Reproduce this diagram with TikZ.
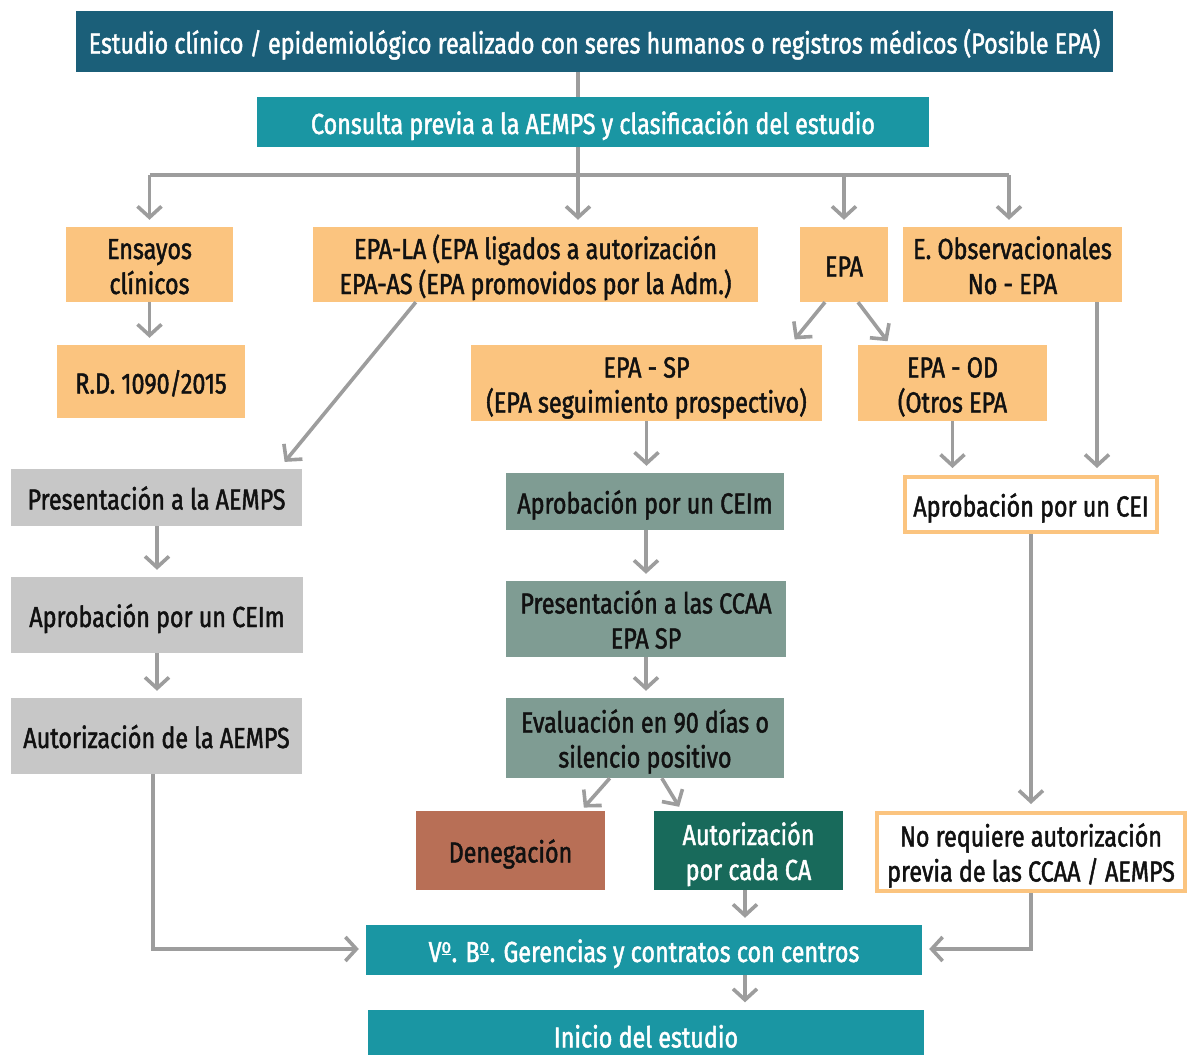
\documentclass[tikz,border=0pt]{standalone}
\usepackage{fontspec}
\setmainfont{Fira Sans}[FakeStretch=0.805, FakeBold=1.6]
\usetikzlibrary{arrows.meta,calc}
\definecolor{cdark}{HTML}{1B5F79}
\definecolor{cteal}{HTML}{1A96A3}
\definecolor{corange}{HTML}{FBC47F}
\definecolor{cgrey}{HTML}{C7C7C7}
\definecolor{csage}{HTML}{7F9C93}
\definecolor{cbrick}{HTML}{B86F56}
\definecolor{cgreen}{HTML}{186A5B}
\definecolor{cline}{HTML}{9D9D9D}
\definecolor{ctext}{HTML}{111111}
\tikzset{
  box/.style={rectangle, inner sep=0pt, align=center, text=ctext,
    font=\fontsize{29}{35}\selectfont,
    execute at begin node={\rule{0pt}{32pt}},
    execute at end node={\rule[-8pt]{0pt}{8pt}}},
  twoline/.style={execute at begin node={\rule{0pt}{67pt}}},
  lowtext/.style={execute at begin node={\rule{0pt}{38pt}},
    execute at end node={\rule[-4pt]{0pt}{4pt}}},
  darkbox/.style={box, fill=cdark, text=white},
  tealbox/.style={box, fill=cteal, text=white},
  orangebox/.style={box, fill=corange},
  greybox/.style={box, fill=cgrey},
  sagebox/.style={box, fill=csage},
  brickbox/.style={box, fill=cbrick},
  greenbox/.style={box, fill=cgreen, text=white},
  framebox/.style={box, fill=white, draw=corange, line width=4pt},
  conn/.style={draw=cline, line width=3.6pt},
  arr/.style={conn, -{Straight Barb[length=11pt,width=24pt,line width=3.6pt]}, shorten >=7pt},
}
\begin{document}
\begin{tikzpicture}[x=1pt,y=-1pt]
\useasboundingbox (0,0) rectangle (1187,1055);
% nodes
\node[darkbox, minimum width=1037, minimum height=61] (top) at (594.5,41.5) {Estudio clínico / epidemiológico realizado con seres humanos o registros médicos (Posible EPA)};
\node[tealbox, minimum width=672, minimum height=50] (consulta) at (593,122) {Consulta previa a la AEMPS y clasificación del estudio};
\node[orangebox, twoline, minimum width=167, minimum height=75] (ensayos) at (149.5,264.5) {Ensayos\\clínicos};
\node[orangebox, twoline, minimum width=445, minimum height=75] (epala) at (535.5,264.5) {EPA-LA (EPA ligados a autorización\\EPA-AS (EPA promovidos por la Adm.)};
\node[orangebox, minimum width=88, minimum height=75] (epa) at (844,264.5) {EPA};
\node[orangebox, twoline, minimum width=219, minimum height=75] (obs) at (1012.5,264.5) {E. Observacionales\\No - EPA};
\node[orangebox, minimum width=188, minimum height=73] (rd) at (151,381.5) {R.D. 1090/2015};
\node[orangebox, twoline, minimum width=351, minimum height=76] (epasp) at (646.5,383) {EPA - SP\\(EPA seguimiento prospectivo)};
\node[orangebox, twoline, minimum width=189, minimum height=76] (epaod) at (952.5,383) {EPA - OD\\(Otros EPA};
\node[greybox, minimum width=291, minimum height=57] (presA) at (156.5,497.5) {Presentación a la AEMPS};
\node[sagebox, minimum width=278, minimum height=57] (ceimB) at (645,501.5) {Aprobación por un CEIm};
\node[framebox, minimum width=252, minimum height=55] (cei) at (1031,504.5) {Aprobación por un CEI};
\node[greybox, minimum width=292, minimum height=76] (ceimA) at (157,615) {Aprobación por un CEIm};
\node[sagebox, twoline, minimum width=280, minimum height=76] (presC) at (646,619) {Presentación a las CCAA\\EPA SP};
\node[greybox, minimum width=291, minimum height=76] (autA) at (156.5,736) {Autorización de la AEMPS};
\node[sagebox, twoline, minimum width=278, minimum height=80] (eval) at (645,738) {Evaluación en 90 días o\\silencio positivo};
\node[brickbox, minimum width=189, minimum height=79] (deneg) at (510.5,850.5) {Denegación};
\node[greenbox, twoline, minimum width=189, minimum height=79] (autCA) at (748.5,850.5) {Autorización\\por cada CA};
\node[framebox, twoline, minimum width=308, minimum height=78] (noreq) at (1031,852) {No requiere autorización\\previa de las CCAA / AEMPS};
\node[tealbox, minimum width=556, minimum height=50] (vobo) at (644,950) {V\textsuperscript{\underline{o}}. B\textsuperscript{\underline{o}}. Gerencias y contratos con centros};
\node[tealbox, lowtext, minimum width=556, minimum height=45] (inicio) at (646,1032.5) {Inicio del estudio};
% coordinates
\coordinate (trunk) at (578,175);
\coordinate (obsx) at (1009,175);
\coordinate (obsdown) at (1097,302);
\coordinate (midx) at (745,0);
\coordinate (lcorner) at (153,949);
\coordinate (rcorner) at (1031,949);
% connectors
\draw[conn] (top.south -| trunk) -- (consulta.north -| trunk);
\draw[conn] (consulta.south -| trunk) -- (trunk);
\draw[conn] (ensayos.north |- trunk) -- (obsx);
\draw[arr] (ensayos.north |- trunk) -- (ensayos.north);
\draw[arr] (trunk) -- (epala.north -| trunk);
\draw[arr] (epa.north |- trunk) -- (epa.north);
\draw[arr] (obsx) -- (obs.north -| obsx);
\draw[arr] (ensayos.south) -- (rd.north -| ensayos.south);
\draw[arr] ($(epala.south west)+(103,0)$) -- ($(presA.north east)+(-22,-1.5)$);
\draw[arr] ($(epa.south)+(-19,0)$) -- ($(epasp.north east)+(-32,0)$);
\draw[arr] ($(epa.south)+(14,0)$) -- ($(epaod.north west)+(34,2)$);
\draw[arr] (obsdown) -- (cei.north -| obsdown);
\draw[arr] (epaod.south) -- (cei.north -| epaod.south);
\draw[arr] (epasp.south) -- (ceimB.north -| epasp.south);
\draw[arr] (presA.south -| ceimA.north) -- (ceimA.north);
\draw[arr] (ceimA.south) -- (autA.north -| ceimA.south);
\draw[arr] (ceimB.south -| presC.north) -- (presC.north);
\draw[arr] (presC.south) -- (eval.north -| presC.south);
\draw[arr] ($(eval.south west)+(104,0)$) -- ($(deneg.north east)+(-26,2)$);
\draw[arr] ($(eval.south west)+(156,0)$) -- ($(autCA.north west)+(29,2)$);
\draw[arr] (cei.south -| noreq.north) -- (noreq.north);
\draw[arr] (autCA.south -| midx) -- (vobo.north -| midx);
\draw[arr] (vobo.south -| midx) -- (inicio.north -| midx);
\draw[arr] (autA.south -| lcorner) -- (lcorner) -- (vobo.west |- lcorner);
\draw[arr] (noreq.south -| rcorner) -- (rcorner) -- (vobo.east |- rcorner);
\end{tikzpicture}
\end{document}
